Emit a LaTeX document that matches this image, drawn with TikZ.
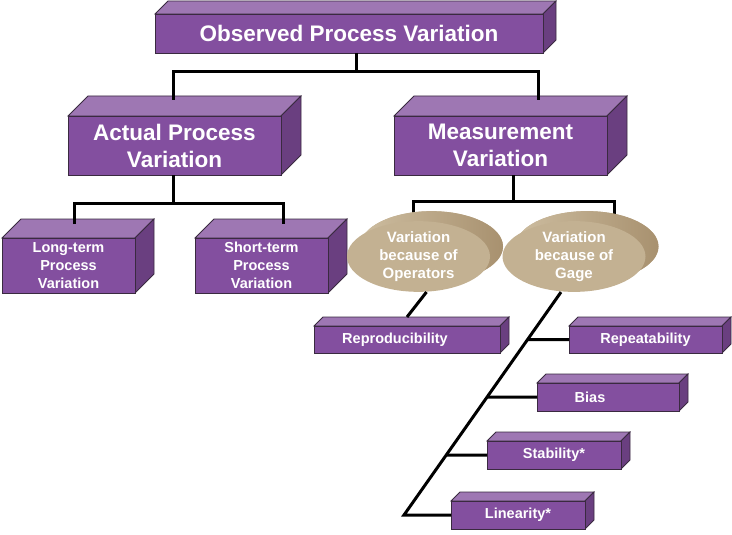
\documentclass[tikz,border=0pt]{standalone}
\usepackage{fontspec}
\setmainfont{Liberation Sans}
\usetikzlibrary{shapes.geometric,shadows}

\definecolor{boxfront}{HTML}{834F9F}
\definecolor{boxtop}{HTML}{9E77B3}
\definecolor{boxside}{HTML}{6A3F80}
\definecolor{boxedge}{HTML}{3A2A40}
\definecolor{discfront}{HTML}{C3B192}
\definecolor{disclight}{HTML}{CDBDA0}
\definecolor{discdark}{HTML}{A8916F}

\tikzset{
  cube/.style={rectangle, draw=boxedge, line width=.8pt, fill=boxfront, text=white,
    align=center, inner sep=0pt, outer sep=0pt,
    append after command={\pgfextra{
      \draw[draw=boxedge, line width=.8pt, fill=boxtop] (\tikzlastnode.north west)
        -- ([xshift=#1, yshift=#1]\tikzlastnode.north west)
        -- ([xshift=#1, yshift=#1]\tikzlastnode.north east)
        -- (\tikzlastnode.north east) -- cycle;
      \draw[draw=boxedge, line width=.8pt, fill=boxside] (\tikzlastnode.north east)
        -- ([xshift=#1, yshift=#1]\tikzlastnode.north east)
        -- ([xshift=#1, yshift=#1]\tikzlastnode.south east)
        -- (\tikzlastnode.south east) -- cycle;
    }}},
  big/.style={font=\bfseries\fontsize{22.5}{27}\selectfont},
  small/.style={font=\bfseries\fontsize{14.5}{18}\selectfont},
  disc/.style={ellipse, fill=discfront, text=white, align=center, inner sep=0pt,
    minimum width=143pt, minimum height=63pt,
    font=\bfseries\fontsize{15}{18}\selectfont,
    copy shadow={shadow xshift=13pt, shadow yshift=10pt, draw=none,
      left color=disclight, right color=discdark}},
  conn/.style={line width=3pt}
}

\begin{document}
\begin{tikzpicture}[x=1pt,y=-1pt]
  \useasboundingbox (0,0) rectangle (732,535);

  % upper levels
  \node[cube=13pt, big, minimum width=388pt, minimum height=39pt] (observed) at (349,33.5) {Observed Process Variation};
  \node[cube=20pt, big, minimum width=213pt, minimum height=59pt] (actual) at (174.5,145.5) {Actual Process\\Variation};
  \node[cube=20pt, big, minimum width=213pt, minimum height=59pt] (measure) at (500.5,145.5) {Measurement\\Variation};
  \node[cube=19pt, small, minimum width=133pt, minimum height=55pt] (longterm) at (68.5,265.5) {Long-term\\Process\\Variation};
  \node[cube=19pt, small, minimum width=133pt, minimum height=55pt] (shortterm) at (261.5,265.5) {Short-term\\Process\\Variation};

  \coordinate (bus0) at (356,72);
  \coordinate (actualin) at (173,100);
  \coordinate (measurein) at (538,100);
  \draw[conn] (observed.south -| bus0) -- (bus0);
  \draw[conn] (actualin) |- (bus0) -| (measurein);

  \coordinate (bus1) at (173,203);
  \coordinate (longin) at (74,224);
  \coordinate (shortin) at (283,224);
  \draw[conn] (actual.south -| bus1) -- (bus1);
  \draw[conn] (longin) |- (bus1) -| (shortin);

  \coordinate (bus2) at (513,201);
  \coordinate (operin) at (413,226);
  \coordinate (gagein) at (614,226);
  \draw[conn] (measure.south -| bus2) -- (bus2);
  \draw[conn] (operin) |- (bus2) -| (gagein);

  % sources of measurement variation
  \node[disc] (operators) at (418.5,256.5) {Variation\\because of\\Operators};
  \node[disc] (gage) at (574,256.5) {Variation\\because of\\Gage};

  \node[cube=9pt, small, minimum width=186pt, minimum height=27pt] (reprod) at (407,339.5) {\hspace*{-12pt}Reproducibility\hspace*{12pt}};
  \node[cube=9pt, small, minimum width=153pt, minimum height=27pt] (repeat) at (645.5,339.5) {Repeatability};
  \node[cube=9pt, small, minimum width=142pt, minimum height=28pt] (bias) at (608,397) {\hspace*{-18pt}Bias\hspace*{18pt}};
  \node[cube=9pt, small, minimum width=134pt, minimum height=28pt] (stability) at (554,455) {Stability*};
  \node[cube=9pt, small, minimum width=134pt, minimum height=28pt] (linearity) at (518,515) {Linearity*};

  \draw[conn] ([xshift=8pt]operators.south) -- ([yshift=9pt]reprod.north);

  \coordinate (gageout) at ([xshift=-13pt]gage.south);
  \coordinate (foot) at (404,515);
  \draw[conn] (gageout) -- (foot) -- (linearity.west);
  \foreach \b in {repeat,bias,stability}
    \draw[conn] (\b.west) -- (intersection of gageout--foot and \b.west--\b.east);
\end{tikzpicture}
\end{document}
